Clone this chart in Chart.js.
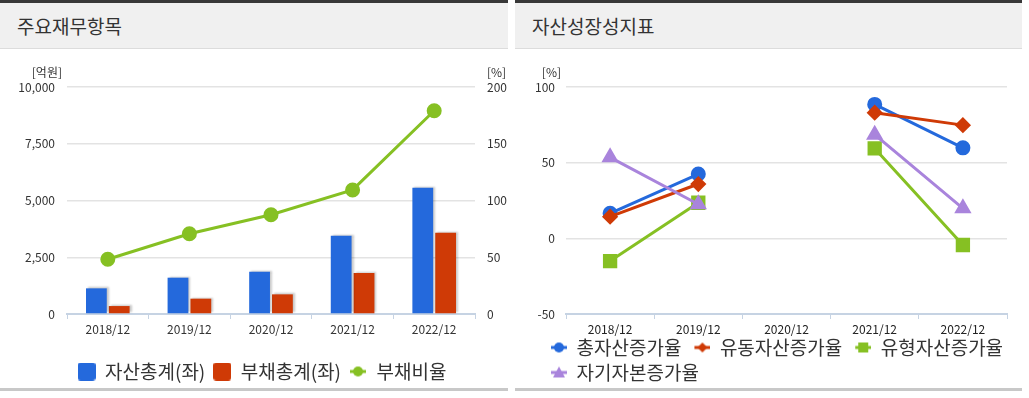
<!DOCTYPE html>
<html>
<head>
<meta charset="utf-8">
<script src="https://cdn.jsdelivr.net/npm/chart.js@4"></script>
<style>
    body { margin: 0; background: #fff; width: 1029px; height: 398px; position: relative; overflow: hidden; }
    .panel { position: absolute; top: 0; height: 398px; }
    #p1 { left: 0; width: 508px; }
    #p2 { left: 515px; width: 507px; }
    .top-line { height: 3px; background: #383838; }
    .head { height: 45px; background: #f0f0f0; border-bottom: 1px solid #dcdcdc; padding-left: 17px;
        font: 19px 'Noto Sans CJK KR', sans-serif; line-height: 45px; color: #333; }
    .body { position: absolute; top: 50px; left: 0; }
    .foot { position: absolute; top: 388px; left: 0; right: 0; height: 3px; background: #c8c8c8; }
</style>
</head>
<body>
<div class="panel" id="p1">
    <div class="top-line"></div>
    <div class="head">주요재무항목</div>
    <div class="body"><canvas id="financeChart" width="508" height="342"></canvas></div>
    <div class="foot"></div>
</div>
<div class="panel" id="p2">
    <div class="top-line"></div>
    <div class="head">자산성장성지표</div>
    <div class="body"><canvas id="growthChart" width="507" height="346"></canvas></div>
    <div class="foot"></div>
</div>
<script>
const categories = ['2018/12', '2019/12', '2020/12', '2021/12', '2022/12'];

// 주요재무항목 (억원, %)
const totalAssets = [1130, 1600, 1865, 3450, 5565];
const totalLiabilities = [350, 675, 865, 1805, 3580];
const debtRatio = [48.2, 70.7, 87.5, 109.3, 179.1];
const amountTicks = [0, 2500, 5000, 7500, 10000];
const ratioTicks = [0, 50, 100, 150, 200];

// 자산성장성지표 (%)
const totalAssetGrowth = [16.5, 42.5, null, 88.5, 59.8];
const currentAssetGrowth = [14.3, 35.9, null, 83.0, 74.8];
const tangibleAssetGrowth = [-15.0, 23.5, null, 59.4, -4.4];
const equityGrowth = [53.5, 22.5, null, 68.5, 19.8];
const growthTicks = [-50, 0, 50, 100];

const BLUE = '#2469dc';
const RED = '#cf3a06';
const GREEN = '#86c023';
const PURPLE = '#a984dc';
const FONT = "'Noto Sans CJK KR', 'Noto Sans', sans-serif";
const GRID = '#e3e3e3';
const AXIS = '#c6d3e3';

// legend symbols, drawn once into small canvases
function marker(kind, color, lead) {
    lead = lead || 0;
    const c = document.createElement('canvas');
    const ctx = c.getContext('2d');
    if (kind === 'box') {
        c.width = 18; c.height = 18;
        ctx.fillStyle = color;
        ctx.beginPath();
        ctx.roundRect(0, 0, 18, 18, 3);
        ctx.fill();
        return c;
    }
    c.width = 16 + lead; c.height = 14;
    ctx.translate(lead, 0);
    ctx.strokeStyle = color;
    ctx.fillStyle = color;
    ctx.lineWidth = 3;
    ctx.beginPath();
    ctx.moveTo(0, 7); ctx.lineTo(16, 7);
    ctx.stroke();
    ctx.beginPath();
    if (kind === 'circle') {
        ctx.arc(8, 7, 5, 0, Math.PI * 2);
    } else if (kind === 'diamond') {
        ctx.moveTo(8, 2); ctx.lineTo(13, 7); ctx.lineTo(8, 12); ctx.lineTo(3, 7);
    } else if (kind === 'square') {
        ctx.rect(3, 2, 10, 10);
    } else if (kind === 'triangle') {
        ctx.moveTo(8, 1); ctx.lineTo(14, 12); ctx.lineTo(2, 12);
    }
    ctx.closePath();
    ctx.fill();
    return c;
}

function legendWith(markers) {
    return function (chart) {
        const items = Chart.defaults.plugins.legend.labels.generateLabels(chart);
        items.forEach(function (it) { it.pointStyle = markers[it.datasetIndex]; });
        return items;
    };
}

const unitLabels = {
    id: 'unitLabels',
    afterDraw(chart, args, opts) {
        const ctx = chart.ctx;
        const area = chart.chartArea;
        ctx.save();
        ctx.font = '12px ' + FONT;
        ctx.fillStyle = '#333';
        ctx.textBaseline = 'middle';
        if (opts.left) {
            ctx.textAlign = 'right';
            ctx.fillText(opts.left, area.left - 5, area.top - 15);
        }
        if (opts.right) {
            ctx.textAlign = 'left';
            ctx.fillText(opts.right, area.right + 12, area.top - 15);
        }
        ctx.restore();
    }
};

// nudge the legend box after layout
const legendShift = {
    id: 'legendShift',
    afterLayout(chart, args, opts) {
        const lg = chart.legend;
        if (!lg) return;
        lg.left += opts.dx || 0;
        lg.top += opts.dy || 0;
        lg.bottom += opts.dy || 0;
    }
};

const barShadow = {
    id: 'barShadow',
    beforeDatasetDraw(chart, args) {
        if (args.meta.type !== 'bar') return;
        const ctx = chart.ctx;
        ctx.save();
        ctx.shadowColor = 'rgba(0,0,0,0.22)';
        ctx.shadowOffsetX = 2;
        ctx.shadowOffsetY = -1;
        ctx.shadowBlur = 2;
    },
    afterDatasetDraw(chart, args) {
        if (args.meta.type !== 'bar') return;
        chart.ctx.restore();
    }
};

const tickFont = { family: FONT, size: 12, lineHeight: 1 };

const financeConfig = {
    type: 'bar',
    data: {
        labels: categories,
        datasets: [{
            label: '자산총계(좌)',
            data: totalAssets,
            backgroundColor: BLUE,
            categoryPercentage: 0.56,
            barPercentage: 0.91,
            yAxisID: 'y',
            order: 1
        }, {
            label: '부채총계(좌)',
            data: totalLiabilities,
            backgroundColor: RED,
            categoryPercentage: 0.56,
            barPercentage: 0.91,
            yAxisID: 'y',
            order: 1
        }, {
            type: 'line',
            label: '부채비율',
            data: debtRatio,
            borderColor: GREEN,
            backgroundColor: GREEN,
            borderWidth: 3,
            pointRadius: 6,
            pointHoverRadius: 6,
            tension: 0,
            yAxisID: 'y1',
            order: 0
        }]
    },
    options: {
        responsive: false,
        animation: false,
        layout: { padding: { top: 37, bottom: 1, left: 0, right: 0 } },
        scales: {
            x: {
                grid: { drawOnChartArea: false, color: AXIS, tickLength: 5, offset: true },
                border: { color: AXIS, width: 2 },
                ticks: { color: '#333', font: tickFont, padding: 4, maxRotation: 0 },
                afterFit(scale) { scale.height = 40; }
            },
            y: {
                position: 'left',
                min: amountTicks[0],
                max: amountTicks[amountTicks.length - 1],
                ticks: {
                    stepSize: amountTicks[1] - amountTicks[0],
                    color: '#333', font: tickFont, padding: 12,
                    callback: v => v.toLocaleString('en-US')
                },
                grid: { color: GRID, lineWidth: 1.5, drawTicks: false },
                border: { display: false },
                afterFit(scale) { scale.width = 67; }
            },
            y1: {
                position: 'right',
                min: ratioTicks[0],
                max: ratioTicks[ratioTicks.length - 1],
                ticks: {
                    stepSize: ratioTicks[1] - ratioTicks[0],
                    color: '#333', font: tickFont, padding: 12
                },
                grid: { drawOnChartArea: false, drawTicks: false },
                border: { display: false },
                afterFit(scale) { scale.width = 33; }
            }
        },
        plugins: {
            tooltip: { enabled: false },
            unitLabels: { left: '[억원]', right: '[%]' },
            legendShift: { dx: 16, dy: 0 },
            legend: {
                position: 'bottom',
                labels: {
                    usePointStyle: true,
                    boxWidth: 18,
                    padding: 8,
                    color: '#333',
                    font: { family: FONT, size: 19 },
                    sort: (a, b) => a.datasetIndex - b.datasetIndex,
                    generateLabels: legendWith([marker('box', BLUE), marker('box', RED), marker('circle', GREEN)])
                }
            }
        }
    },
    plugins: [unitLabels, barShadow, legendShift]
};

function growthSet(label, data, color, style, radius, order) {
    return {
        label: label,
        data: data,
        borderColor: color,
        backgroundColor: color,
        borderWidth: 3,
        pointStyle: style,
        pointRadius: radius,
        pointHoverRadius: radius,
        spanGaps: false,
        tension: 0,
        order: order
    };
}

const growthConfig = {
    type: 'line',
    data: {
        labels: categories,
        datasets: [
            growthSet('총자산증가율', totalAssetGrowth, BLUE, 'circle', 6, 3),
            growthSet('유동자산증가율', currentAssetGrowth, RED, 'rectRot', 6, 2),
            growthSet('유형자산증가율', tangibleAssetGrowth, GREEN, 'rect', 8, 1),
            growthSet('자기자본증가율', equityGrowth, PURPLE, 'triangle', 7, 0)
        ]
    },
    options: {
        responsive: false,
        animation: false,
        layout: { padding: { top: 37, bottom: 0, left: 0, right: 0 } },
        scales: {
            x: {
                offset: true,
                grid: { drawOnChartArea: false, color: AXIS, tickLength: 5, offset: true },
                border: { color: AXIS, width: 2 },
                ticks: { color: '#222', font: tickFont, padding: 4, maxRotation: 0 },
                afterFit(scale) { scale.height = 22; }
            },
            y: {
                min: growthTicks[0],
                max: growthTicks[growthTicks.length - 1],
                ticks: {
                    stepSize: growthTicks[1] - growthTicks[0],
                    color: '#333', font: tickFont, padding: 11
                },
                grid: { color: GRID, lineWidth: 1.5, drawTicks: false },
                border: { display: false },
                afterFit(scale) { scale.width = 51; }
            },
            // empty spacer on the right so the legend can use the full width
            spacer: {
                position: 'right',
                ticks: { display: false },
                grid: { drawOnChartArea: false, drawTicks: false },
                border: { display: false },
                afterFit(scale) { scale.width = 15; }
            }
        },
        plugins: {
            tooltip: { enabled: false },
            unitLabels: { left: '[%]' },
            legendShift: { dx: 23, dy: -4 },
            legend: {
                position: 'bottom',
                align: 'start',
                labels: {
                    usePointStyle: true,
                    boxWidth: 23,
                    pointStyleWidth: 23,
                    padding: 6,
                    color: '#333',
                    font: { family: FONT, size: 19 },
                    sort: (a, b) => a.datasetIndex - b.datasetIndex,
                    generateLabels: legendWith([marker('circle', BLUE, 7), marker('diamond', RED, 7),
                        marker('square', GREEN, 7), marker('triangle', PURPLE, 7)])
                }
            }
        }
    },
    plugins: [unitLabels, legendShift]
};

new Chart(document.getElementById('financeChart').getContext('2d'), financeConfig);
new Chart(document.getElementById('growthChart').getContext('2d'), growthConfig);
</script>
</body>
</html>
